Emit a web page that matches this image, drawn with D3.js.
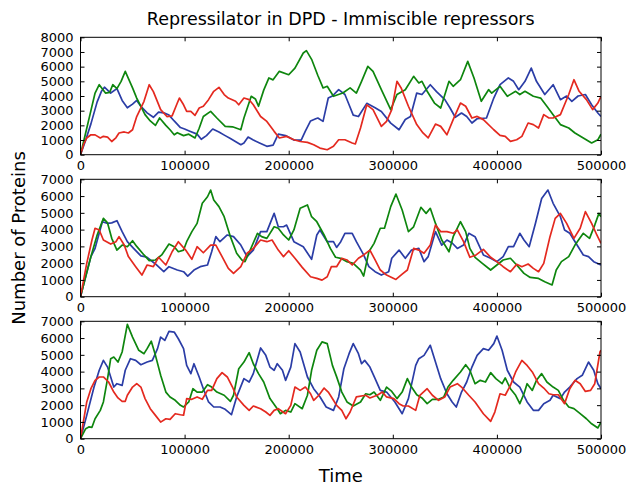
<!DOCTYPE html>
<html>
<head>
<meta charset="utf-8">
<script src="https://cdn.jsdelivr.net/npm/d3@7"></script>
<style>
  html, body { margin: 0; padding: 0; background: #fff; }
  svg { display: block; font-family: "DejaVu Sans", sans-serif; }
</style>
</head>
<body>
<svg id="chart" width="632" height="486"></svg>
<script>
// Protein counts over time for the three repressors, in three independent runs.
// Each point is [time in thousands, number of proteins].

const timeTicks = [0, 100000, 200000, 300000, 400000, 500000];
const yTicksTop = [0, 1000, 2000, 3000, 4000, 5000, 6000, 7000, 8000];
const yTicksLower = [0, 1000, 2000, 3000, 4000, 5000, 6000, 7000];

// ---- run 1 ----
const run1Blue = [[0,0],[5,1000],[10,2100],[16,3600],[20,4300],[23,4600],[29,4200],[35,4500],[40,3700],[45,3200],[50,3450],[54,3700],[58,3300],[64,2850],[70,2550],[75,2900],[80,2850],[85,2700],[90,2300],[96,1850],[100,1750],[105,1600],[112,1400],[116,1050],[121,1300],[127,1750],[133,1550],[139,1300],[144,1100],[150,850],[154,680],[157,800],[161,1200],[166,1000],[172,800],[179,570],[185,650],[190,1400],[197,1300],[205,1000],[212,1000],[216,1600],[221,2300],[226,2450],[228,2500],[233,2270],[238,3860],[242,4000],[248,4430],[254,4100],[258,3400],[262,2700],[267,2600],[275,3500],[283,3200],[289,2950],[298,2150],[306,1700],[312,2400],[317,2600],[323,4200],[328,4100],[336,4770],[342,4300],[350,3750],[355,3180],[360,2550],[366,2840],[371,2600],[376,2160],[381,2450],[390,2500],[397,3860],[403,4770],[411,5230],[416,5000],[421,4430],[427,5000],[433,5900],[438,5000],[446,4100],[454,4770],[461,3750],[467,4000],[472,3640],[478,4000],[485,4100],[491,3400],[497,2840],[500,2600]];
const run1Green = [[0,0],[5,1500],[10,3000],[14,4200],[18,4770],[24,4200],[28,4250],[31,4770],[35,4500],[39,5000],[43,5680],[50,4550],[54,3860],[58,3300],[62,2730],[67,2300],[72,2000],[76,2500],[82,2000],[86,1700],[90,1360],[93,1500],[99,1300],[104,1400],[110,1140],[114,1800],[118,2600],[125,2950],[131,2500],[139,1930],[146,1900],[154,1700],[157,2500],[164,3980],[168,3800],[171,3300],[176,4400],[181,5230],[185,5100],[191,5680],[200,5450],[206,5900],[214,6930],[217,7090],[222,6500],[228,5400],[233,4550],[237,4660],[243,3980],[252,4200],[259,4550],[265,4200],[270,5000],[276,6020],[281,5680],[289,4430],[298,3070],[304,4100],[312,4430],[320,5340],[325,4890],[328,5000],[333,4320],[340,3520],[346,3180],[354,5000],[358,4660],[365,5110],[372,6360],[378,5230],[385,3640],[392,4430],[395,4200],[403,4660],[410,3980],[418,4320],[422,4100],[427,4320],[435,3980],[442,3860],[448,3300],[454,2730],[461,2050],[469,1820],[475,1480],[483,1140],[491,800],[497,1020],[500,1400]];
const run1Red = [[0,0],[3,700],[6,1140],[10,1360],[14,1350],[19,1140],[22,1250],[26,1200],[30,900],[34,1150],[37,1480],[42,1550],[46,1480],[50,1700],[54,2600],[61,3640],[66,4770],[70,4300],[77,3070],[83,2600],[88,2650],[93,3520],[95,3860],[99,3400],[102,2950],[106,2950],[110,2680],[114,3180],[118,3300],[123,3750],[128,4320],[133,4590],[138,4100],[142,3860],[149,3640],[152,3400],[157,3860],[162,3750],[166,3400],[173,2600],[179,2270],[186,1590],[191,1140],[198,1250],[205,1020],[211,900],[218,840],[224,680],[230,450],[237,340],[243,570],[248,1020],[254,1020],[261,800],[264,730],[269,1820],[275,3400],[281,3070],[289,1930],[294,2270],[299,3070],[304,5000],[308,4550],[315,3300],[323,2050],[329,1480],[334,1140],[341,2090],[346,1930],[352,1360],[358,2390],[365,3520],[370,3300],[376,2500],[381,2610],[387,2390],[397,1700],[403,1320],[408,1250],[413,910],[419,1020],[424,1250],[430,2160],[435,2050],[440,1820],[445,2730],[450,2500],[454,2500],[461,2730],[469,4100],[474,5110],[479,4320],[486,3750],[492,3070],[497,3520],[500,3980]];

// ---- run 2 ----
const run2Blue = [[0,0],[5,1200],[10,2390],[14,2880],[18,3800],[21,4470],[26,4370],[30,4400],[35,4530],[40,3880],[45,3280],[51,2880],[58,2430],[64,2350],[72,1950],[80,1490],[85,1790],[93,1590],[99,1490],[103,1230],[109,1590],[115,1790],[122,1890],[126,2680],[130,3580],[134,3280],[141,3680],[147,3580],[154,3080],[160,2390],[166,2780],[173,3880],[179,3880],[186,4970],[190,4170],[195,4170],[198,4270],[205,3280],[214,2980],[222,2230],[227,3680],[230,3980],[237,3280],[243,3280],[246,2940],[250,3280],[254,3780],[261,3780],[265,3280],[272,2490],[277,1790],[283,1490],[289,1290],[296,1490],[299,2290],[306,2780],[312,2290],[318,2780],[325,2880],[330,2090],[334,2390],[341,3880],[347,3080],[352,3380],[357,3200],[362,2880],[368,3080],[373,3780],[379,3580],[387,2490],[394,2290],[400,2090],[406,2390],[411,2980],[416,2980],[422,3780],[426,3380],[431,2980],[437,4370],[443,5860],[449,6360],[454,5570],[461,4770],[465,3980],[470,3780],[477,3080],[483,2490],[488,2390],[493,2090],[500,1890]];
const run2Green = [[0,0],[5,1200],[10,2390],[16,3680],[22,4670],[26,4400],[30,3480],[35,2780],[40,3080],[45,2980],[50,3340],[54,3000],[61,2490],[66,2150],[72,2190],[78,2490],[85,3140],[90,2980],[94,2680],[99,2780],[102,3280],[107,3880],[112,4370],[117,5570],[122,5960],[125,6360],[128,5770],[133,5370],[138,4770],[144,3580],[150,2590],[155,2190],[158,2090],[163,2780],[170,3780],[174,3580],[179,3480],[186,4170],[190,4080],[195,3680],[200,3380],[205,3980],[211,5270],[218,5470],[222,4770],[227,4470],[234,3680],[240,2880],[245,2350],[250,2290],[256,2090],[262,1990],[269,1590],[272,1230],[277,2680],[282,3180],[288,4080],[292,4080],[298,5370],[303,6120],[309,5170],[315,3880],[320,4170],[327,5330],[332,4970],[336,5270],[341,4370],[347,3380],[354,2680],[358,3580],[365,4470],[370,3880],[374,2880],[379,2350],[386,1990],[394,1590],[400,1890],[406,2190],[413,2290],[419,1890],[426,1390],[432,1150],[440,1090],[446,890],[453,700],[457,1590],[462,2090],[469,2390],[475,3080],[483,3780],[489,3480],[494,4270],[498,4970],[500,4770]];
const run2Red = [[0,0],[6,1990],[11,3380],[14,4080],[18,3980],[22,3380],[29,3140],[34,3280],[37,3580],[42,3080],[46,2390],[53,1790],[59,1290],[64,1890],[70,1790],[75,2350],[82,1890],[88,2680],[94,3280],[101,2780],[107,2230],[112,2980],[118,2620],[125,3080],[130,3080],[136,2390],[142,1690],[147,1390],[154,1790],[160,2590],[166,2880],[173,3380],[179,3280],[184,3380],[190,2780],[195,2390],[200,2740],[206,2290],[213,1750],[221,1190],[227,1090],[232,990],[237,1190],[241,1790],[246,1790],[251,2290],[256,2190],[261,1890],[267,2290],[272,2490],[278,2780],[283,2190],[288,1590],[294,1290],[303,1030],[309,1350],[314,1590],[320,2880],[325,2780],[330,2590],[336,3080],[341,4270],[346,3880],[352,3880],[358,3780],[362,3980],[368,3280],[374,2350],[380,2490],[387,2820],[394,2350],[400,2090],[406,1790],[413,1490],[419,1930],[424,1790],[430,1950],[435,1690],[440,1490],[445,1990],[451,3580],[456,4670],[461,4970],[467,4370],[474,3480],[480,4080],[485,5070],[491,4370],[496,3680],[500,3180]];

// ---- run 3 ----
const run3Blue = [[0,0],[6,1390],[13,3080],[18,4080],[22,4670],[26,4270],[32,3080],[35,3280],[40,3180],[43,4080],[48,4770],[53,4670],[58,4410],[64,4570],[69,4670],[74,5370],[77,6060],[81,5860],[85,6400],[90,6360],[94,5960],[99,5370],[102,4370],[106,3880],[109,4470],[114,3680],[118,2980],[123,2190],[128,1890],[134,1890],[139,1750],[145,1430],[150,2490],[157,3580],[162,3380],[166,3880],[173,5410],[178,4970],[182,4270],[186,4080],[189,4470],[194,4080],[197,3480],[202,4270],[206,5670],[211,5170],[218,3680],[224,2980],[230,2500],[236,1890],[243,1690],[248,2490],[253,4170],[258,5070],[262,5670],[267,5070],[270,4470],[273,4670],[278,4270],[283,3580],[288,2880],[294,2780],[302,2190],[309,1490],[315,2390],[322,4370],[325,4770],[330,4970],[336,5570],[341,4570],[346,3580],[352,2680],[357,2190],[361,1890],[366,2780],[371,3380],[376,4270],[381,4970],[387,5370],[392,5270],[397,5670],[400,6120],[405,5270],[410,4080],[416,3380],[422,3080],[429,2190],[435,1690],[440,1690],[445,2090],[451,2290],[454,2590],[461,2390],[465,2780],[470,3080],[477,3580],[482,3780],[488,4570],[493,4080],[497,3280],[500,2980]];
const run3Green = [[0,0],[5,600],[8,700],[11,680],[14,1190],[19,1690],[22,2190],[26,3580],[29,4770],[32,4870],[36,4570],[40,5170],[45,6820],[50,6060],[56,5270],[61,5070],[64,5370],[68,5810],[72,4970],[77,3780],[82,2780],[86,2490],[91,2290],[96,1990],[99,1890],[104,2190],[108,2980],[112,2780],[117,2780],[122,3220],[126,3080],[131,2780],[138,2590],[144,2230],[147,2590],[152,4170],[157,4570],[162,5130],[166,4470],[171,3880],[176,3380],[182,2390],[189,1790],[192,1490],[197,1690],[202,1590],[206,2090],[213,1790],[218,2590],[222,4080],[227,5270],[232,5770],[237,5670],[242,4370],[246,3700],[251,2780],[256,2190],[262,1950],[269,2190],[274,2680],[278,2620],[282,2780],[288,2290],[294,3080],[299,2820],[304,2390],[309,2780],[314,3580],[318,3080],[323,2620],[328,2430],[333,2090],[338,2350],[344,2350],[349,2490],[353,3080],[358,3480],[365,3980],[370,4410],[374,4080],[379,3280],[384,3480],[389,3380],[394,3940],[399,3580],[405,3280],[408,3620],[413,2980],[418,2590],[422,2090],[426,2680],[429,3280],[434,2880],[438,3480],[443,3880],[448,3380],[454,3080],[459,2880],[464,2290],[469,1890],[474,1790],[480,1490],[486,1190],[491,890],[497,640],[500,990]];
const run3Red = [[0,0],[6,2190],[10,2980],[14,3480],[18,3680],[22,3680],[27,3380],[32,2780],[36,2430],[40,2230],[43,2230],[45,2590],[50,3080],[54,3280],[58,3080],[62,2390],[67,1790],[72,1390],[77,990],[82,1190],[86,1150],[91,1490],[96,1430],[99,1400],[102,2390],[107,2350],[112,2490],[117,2350],[122,2880],[126,2880],[131,3580],[136,3940],[141,3680],[146,3080],[150,2490],[157,1990],[162,1690],[166,1950],[173,1790],[178,1590],[182,1390],[186,1690],[190,1790],[197,1490],[202,1990],[206,3080],[211,2880],[216,3080],[221,2680],[224,2290],[229,2590],[234,3020],[238,2780],[240,2590],[243,2290],[246,1990],[251,1690],[255,1190],[259,1590],[265,2490],[274,2590],[278,2430],[285,2590],[290,2780],[294,2490],[301,2390],[306,2090],[310,1950],[315,1950],[322,1690],[326,2590],[333,2980],[338,2590],[344,2290],[350,2490],[355,3080],[362,3280],[366,3080],[373,2590],[379,2190],[387,1490],[394,1030],[398,1590],[403,2680],[408,2590],[413,3180],[418,3980],[424,4670],[429,4370],[434,3980],[440,3280],[445,3020],[450,2680],[454,2620],[459,2620],[465,2090],[470,2980],[475,3480],[480,3280],[485,2820],[490,2880],[494,3280],[499,5170],[500,5270]];

const colors = { blue: "#2b3da6", green: "#0e860e", red: "#e4291f" };

const panels = [
  { top: 37.3, bottom: 154.7, yMax: 8000, yTicks: yTicksTop,   series: [[run1Blue, colors.blue], [run1Green, colors.green], [run1Red, colors.red]] },
  { top: 179.3, bottom: 296.7, yMax: 7000, yTicks: yTicksLower, series: [[run2Blue, colors.blue], [run2Green, colors.green], [run2Red, colors.red]] },
  { top: 321.3, bottom: 438.7, yMax: 7000, yTicks: yTicksLower, series: [[run3Blue, colors.blue], [run3Green, colors.green], [run3Red, colors.red]] }
];

const svg = d3.select("#chart");
const left = 80.5, right = 601;
const x = d3.scaleLinear().domain([0, 500000]).range([left, right]);

panels.forEach(p => {
  const y = d3.scaleLinear().domain([0, p.yMax]).range([p.bottom, p.top]);
  const g = svg.append("g");

  const line = d3.line()
    .x(d => x(d[0] * 1000))
    .y(d => y(d[1]));

  const clipId = "clip" + Math.round(p.top);
  svg.append("clipPath").attr("id", clipId)
    .append("rect").attr("x", left).attr("y", p.top).attr("width", right - left).attr("height", p.bottom - p.top);

  const lines = g.append("g").attr("clip-path", `url(#${clipId})`);
  p.series.forEach(([data, color]) => {
    lines.append("path")
      .datum(data)
      .attr("fill", "none")
      .attr("stroke", color)
      .attr("stroke-width", 1.7)
      .attr("stroke-linejoin", "round")
      .attr("d", line);
  });

  // axes: ticks point inward on all four sides
  const axisStyle = sel => {
    sel.select(".domain").remove();
    sel.selectAll(".tick line").attr("stroke", "#000").attr("stroke-width", 1);
    sel.selectAll("text").attr("fill", "#000").style("font-size", "13px").style("font-family", "DejaVu Sans, sans-serif");
  };

  g.append("g").attr("transform", `translate(${left},0)`)
    .call(d3.axisLeft(y).tickValues(p.yTicks).tickFormat(d3.format("d")).tickSizeInner(-4).tickSizeOuter(0).tickPadding(7))
    .call(axisStyle);
  g.append("g").attr("transform", `translate(${right},0)`)
    .call(d3.axisRight(y).tickValues(p.yTicks).tickFormat("").tickSizeInner(-4).tickSizeOuter(0))
    .call(axisStyle);
  g.append("g").attr("transform", `translate(0,${p.bottom})`)
    .call(d3.axisBottom(x).tickValues(timeTicks).tickFormat(d3.format("d")).tickSizeInner(-4).tickSizeOuter(0).tickPadding(6))
    .call(axisStyle);
  g.append("g").attr("transform", `translate(0,${p.top})`)
    .call(d3.axisTop(x).tickValues(timeTicks).tickFormat("").tickSizeInner(-4).tickSizeOuter(0))
    .call(axisStyle);

  g.append("rect")
    .attr("x", left).attr("y", p.top)
    .attr("width", right - left).attr("height", p.bottom - p.top)
    .attr("fill", "none").attr("stroke", "#000").attr("stroke-width", 1);
});

svg.append("text")
  .attr("x", (left + right) / 2).attr("y", 25)
  .attr("text-anchor", "middle")
  .style("font-size", "17.5px")
  .text("Repressilator in DPD - Immiscible repressors");

svg.append("text")
  .attr("x", (left + right) / 2).attr("y", 482)
  .attr("text-anchor", "middle")
  .style("font-size", "18px")
  .text("Time");

svg.append("text")
  .attr("transform", `translate(25,${(37.3 + 438.7) / 2}) rotate(-90)`)
  .attr("text-anchor", "middle")
  .style("font-size", "18px")
  .text("Number of Proteins");
</script>
</body>
</html>
